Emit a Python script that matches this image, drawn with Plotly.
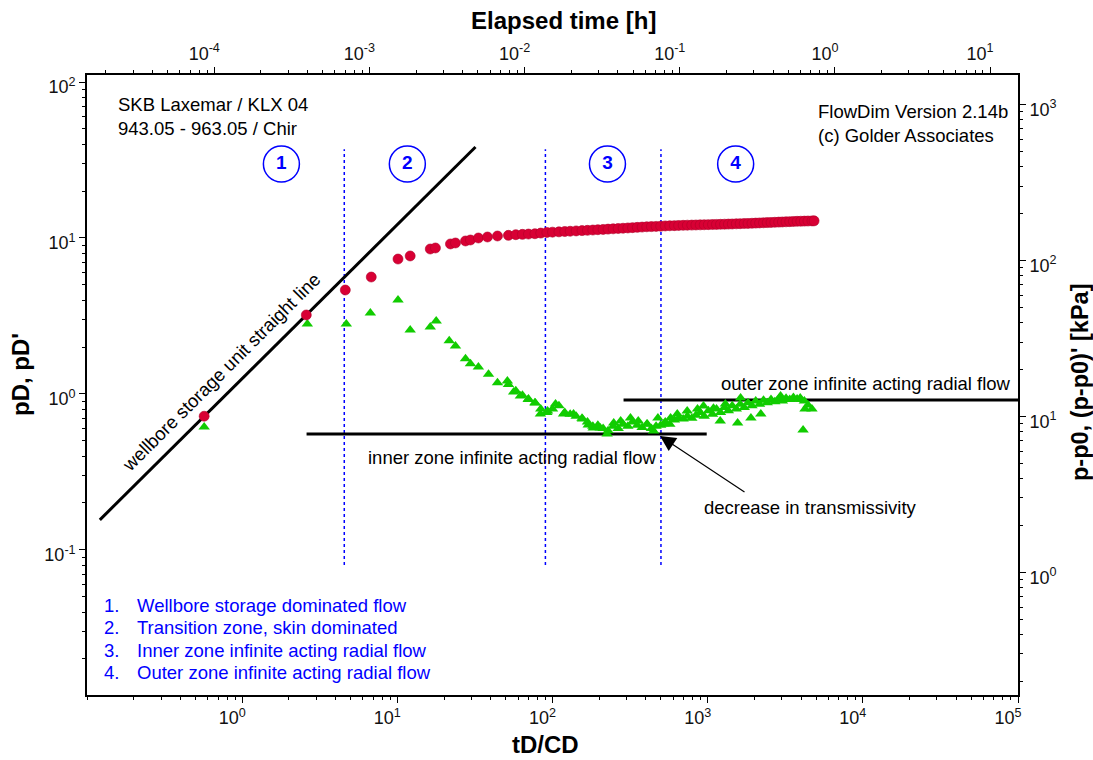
import plotly.graph_objects as go

FONT = "Liberation Sans, Arial, sans-serif"

# ---------------- data ----------------
# pressure (pD) vs tD/CD
p_td = [0.569, 2.59, 4.62, 6.79, 10.1, 12.1, 16.3, 17.6, 22.0, 23.7, 27.5, 29.6, 33.3, 38.1, 44.2,
        52, 58, 64, 70, 77, 84, 92, 100, 110, 120, 130, 142, 155, 168, 182, 196, 212, 228, 246, 265,
        285, 306, 328, 352, 378, 405, 434, 465, 498, 533, 570, 610, 650, 695, 740, 790, 840, 895, 950,
        1010, 1075, 1140, 1210, 1285, 1360, 1440, 1530, 1620, 1720, 1820, 1930, 2040, 2160, 2290,
        2420, 2560, 2710, 2870, 3030, 3200, 3380, 3570, 3770, 3980, 4200, 4430, 4700, 4850]
p_pd = [0.72, 3.21, 4.64, 5.62, 7.33, 7.67, 8.5, 8.63, 9.16, 9.29, 9.57, 9.71, 10.0, 10.15, 10.3,
        10.4, 10.5, 10.55, 10.6, 10.65, 10.75, 10.85, 10.9, 10.95, 11.0, 11.05, 11.1, 11.15, 11.2,
        11.25, 11.3, 11.35, 11.4, 11.45, 11.5, 11.55, 11.6, 11.65, 11.7, 11.75, 11.8, 11.83, 11.87,
        11.9, 11.95, 11.98, 12.0, 12.03, 12.06, 12.08, 12.1, 12.12, 12.14, 12.16, 12.18, 12.2, 12.22,
        12.24, 12.26, 12.28, 12.3, 12.33, 12.35, 12.38, 12.4, 12.43, 12.46, 12.49, 12.52, 12.55,
        12.58, 12.61, 12.64, 12.67, 12.7, 12.73, 12.76, 12.79, 12.81, 12.83, 12.85, 12.87, 12.88]

# derivative (pD') vs tD/CD
d_td = [0.569, 2.63, 4.69, 6.7, 10.1, 12.1, 16.3, 17.8, 21.6, 23.7, 27.5, 29.6, 33.3, 38.7, 44.2,
        51.2, 56.2, 62.1, 69.8, 77.5, 83.6, 92.9, 104.6, 117.8, 136.6, 156, 170, 183, 203, 225, 248,
        275, 318, 357, 408, 448, 478, 523, 577, 637, 738, 860, 940, 1090, 1205, 1300, 1560, 1630,
        1900, 2200, 2950, 3950, 4240, 4120,
        52, 58, 64, 70, 77, 84, 92, 100, 110, 120, 130, 142, 155, 168, 182, 196, 212, 228, 246, 265,
        285, 306, 328, 352, 378, 405, 434, 465, 498, 533, 570, 610, 650, 695, 740, 790, 840, 895,
        950, 1010, 1075, 1140, 1210, 1285, 1360, 1440, 1530, 1620, 1720, 1820, 1930, 2040, 2160,
        2290, 2420, 2560, 2710, 2870, 3030, 3200, 3380, 3570, 3770, 3980, 4200, 4430, 4700]
d_pd = [0.614, 2.81, 2.81, 3.31, 4.0, 2.57, 2.69, 2.94, 2.19, 2.03, 1.68, 1.56, 1.49, 1.34, 1.18,
        1.21, 1.03, 0.97, 0.92, 0.875, 0.745, 0.778, 0.863, 0.745, 0.745, 0.69, 0.633, 0.605, 0.605,
        0.554, 0.652, 0.672, 0.702, 0.672, 0.642, 0.579, 0.702, 0.642, 0.702, 0.745, 0.778, 0.80,
        0.838, 0.81, 0.672, 0.863, 0.652, 0.943, 0.702, 0.745, 0.971, 0.943, 0.80, 0.588,
        1.15, 1.05, 0.98, 0.93, 0.88, 0.80, 0.76, 0.80, 0.84, 0.76, 0.74, 0.72, 0.70, 0.66, 0.62,
        0.63, 0.60, 0.58, 0.62, 0.60, 0.64, 0.62, 0.66, 0.63, 0.61, 0.64, 0.60, 0.62, 0.63, 0.66,
        0.64, 0.68, 0.70, 0.69, 0.72, 0.70, 0.73, 0.76, 0.72, 0.78, 0.74, 0.80, 0.76, 0.82, 0.78,
        0.84, 0.80, 0.86, 0.82, 0.88, 0.84, 0.90, 0.86, 0.91, 0.88, 0.92, 0.89, 0.93, 0.90, 0.94,
        0.92, 0.95, 0.93, 0.92, 0.90, 0.85, 0.80]

# straight lines (tD/CD, pD)
wbs_td = [0.121, 31.9]
wbs_pd = [0.156, 38.3]
inner_td = [2.6, 986]
inner_pd = [0.554, 0.554]
outer_td = [287, 1e5]
outer_pd = [0.915, 0.915]
flow_bounds_td = [4.55, 90, 500]
flow_bounds_pd = [0.08, 37]

# circled period labels
period_td = [1.79, 11.6, 226, 1515]
period_pd = [29.8, 29.8, 29.8, 29.8]
period_lbl = ["1", "2", "3", "4"]

legend_lines = ["Wellbore storage dominated flow", "Transition zone, skin dominated",
                "Inner zone infinite acting radial flow", "Outer zone infinite acting radial flow"]

# axis ticks
x_tickvals = [1, 10, 100, 1000, 1e4, 1e5]
x_ticktext = ["10<sup>0</sup>", "10<sup>1</sup>", "10<sup>2</sup>", "10<sup>3</sup>", "10<sup>4</sup>", "10<sup>5</sup>"]
x2_tickvals = [1e-4, 1e-3, 1e-2, 1e-1, 1, 10]
x2_ticktext = ["10<sup>-4</sup>", "10<sup>-3</sup>", "10<sup>-2</sup>", "10<sup>-1</sup>", "10<sup>0</sup>", "10<sup>1</sup>"]
y_tickvals = [0.1, 1, 10, 100]
y_ticktext = ["10<sup>-1</sup>", "10<sup>0</sup>", "10<sup>1</sup>", "10<sup>2</sup>"]
y2_tickvals = [1, 10, 100, 1000]
y2_ticktext = ["10<sup>0</sup>", "10<sup>1</sup>", "10<sup>2</sup>", "10<sup>3</sup>"]

# ---------------- figure ----------------
W, H = 1093, 760
ML, MR, MT, MB = 87, 75, 75, 65
PW, PH = W - ML - MR, H - MT - MB
TS = 18.5  # annotation text size


def px(x):
    return (x - ML) / PW


def py(y):
    return (H - MB - y) / PH


fig = go.Figure()

BLUE = "#0000FF"
for xv in flow_bounds_td:
    fig.add_trace(go.Scatter(x=[xv, xv], y=flow_bounds_pd, mode="lines",
                             line=dict(color=BLUE, width=1.5, dash="dot"), hoverinfo="skip"))

for tx, ty in [(wbs_td, wbs_pd), (inner_td, inner_pd), (outer_td, outer_pd)]:
    fig.add_trace(go.Scatter(x=tx, y=ty, mode="lines", line=dict(color="black", width=3),
                             hoverinfo="skip"))

fig.add_trace(go.Scatter(x=d_td, y=d_pd, mode="markers",
                         marker=dict(symbol="triangle-up", size=10, color="#11CC00", line=dict(width=0))))
fig.add_trace(go.Scatter(x=p_td, y=p_pd, mode="markers",
                         marker=dict(symbol="circle", size=10, color="#D80034",
                                     line=dict(width=0.6, color="#B0002A"))))

fig.add_trace(go.Scatter(x=period_td, y=period_pd, mode="markers+text", text=period_lbl,
                         textposition="middle center",
                         textfont=dict(family=FONT, size=19, color=BLUE, weight="bold"),
                         marker=dict(symbol="circle", size=36, color="white",
                                     line=dict(color=BLUE, width=1.5))))

# invisible trace to activate secondary axes
fig.add_trace(go.Scatter(x=[1], y=[10], xaxis="x2", yaxis="y2", mode="markers",
                         marker=dict(opacity=0), hoverinfo="skip"))

axis_common = dict(type="log", showline=True, linecolor="black", linewidth=1.6,
                   ticks="outside", ticklen=6, tickwidth=1.2, tickcolor="black",
                   showgrid=False, zeroline=False, tickmode="array",
                   tickfont=dict(family=FONT, size=18, color="#111"),
                   minor=dict(ticks="outside", ticklen=3, tickwidth=1, tickcolor="black",
                              dtick="D1", showgrid=False))

fig.update_layout(
    width=W, height=H, margin=dict(l=ML, r=MR, t=MT, b=MB),
    plot_bgcolor="white", paper_bgcolor="white", showlegend=False,
    font=dict(family=FONT, size=16, color="black"),
    xaxis=dict(axis_common, range=[-1, 5], tickvals=x_tickvals, ticktext=x_ticktext, ticklabelshift=-10),
    xaxis2=dict(axis_common, range=[-4.82, 1.18], tickvals=x2_tickvals, ticktext=x2_ticktext,
                overlaying="x", side="top", anchor="y", ticklabelshift=-10),
    yaxis=dict(axis_common, range=[-1.93, 2.045], tickvals=y_tickvals, ticktext=y_ticktext,
               ticklabelshift=5),
    yaxis2=dict(axis_common, range=[-0.786, 3.189], tickvals=y2_tickvals, ticktext=y2_ticktext,
                overlaying="y", side="right", anchor="x", ticklabelshift=5),
)

ann = []


def txt(x, y, s, size=TS, color="black", bold=False, xanchor="center", yanchor="middle",
        angle=0, align="center"):
    ann.append(dict(x=x, y=y, xref="paper", yref="paper", text=s, showarrow=False,
                    xanchor=xanchor, yanchor=yanchor, textangle=angle, align=align,
                    font=dict(family=FONT, size=size, color=color, weight="bold" if bold else "normal")))


txt(px(563), py(20), "Elapsed time [h]", size=24, bold=True)
txt(px(545), py(744), "tD/CD", size=24, bold=True)
txt(px(20), py(375), "pD, pD'", size=24, bold=True, angle=-90)
txt(px(1080), py(382), "p-p0, (p-p0)' [kPa]", size=23.5, bold=True, angle=-90)

txt(px(116), py(116.5), "SKB Laxemar / KLX 04<br>943.05 - 963.05 / Chir", xanchor="left", align="left")
txt(px(816), py(123.5), "FlowDim Version 2.14b<br>(c) Golder Associates", xanchor="left", align="left")
txt(px(221), py(373), "wellbore storage unit straight line", angle=-45)
txt(px(512), py(458), "inner zone infinite acting radial flow")
txt(px(866), py(383), "outer zone infinite acting radial flow")
txt(px(810), py(507), "decrease in transmissivity")

for i, line in enumerate(legend_lines):
    yy = 605 + i * 22.6
    txt(px(102), py(yy), f"{i + 1}.", color=BLUE, xanchor="left")
    txt(px(135), py(yy), line, color=BLUE, xanchor="left")

ann.append(dict(x=px(660), y=py(436), xref="paper", yref="paper", ax=86, ay=57, text="",
                showarrow=True, arrowhead=2, arrowsize=2.6, arrowwidth=1.2, arrowcolor="black"))

fig.update_layout(annotations=ann)

fig.write_html("out.html")
